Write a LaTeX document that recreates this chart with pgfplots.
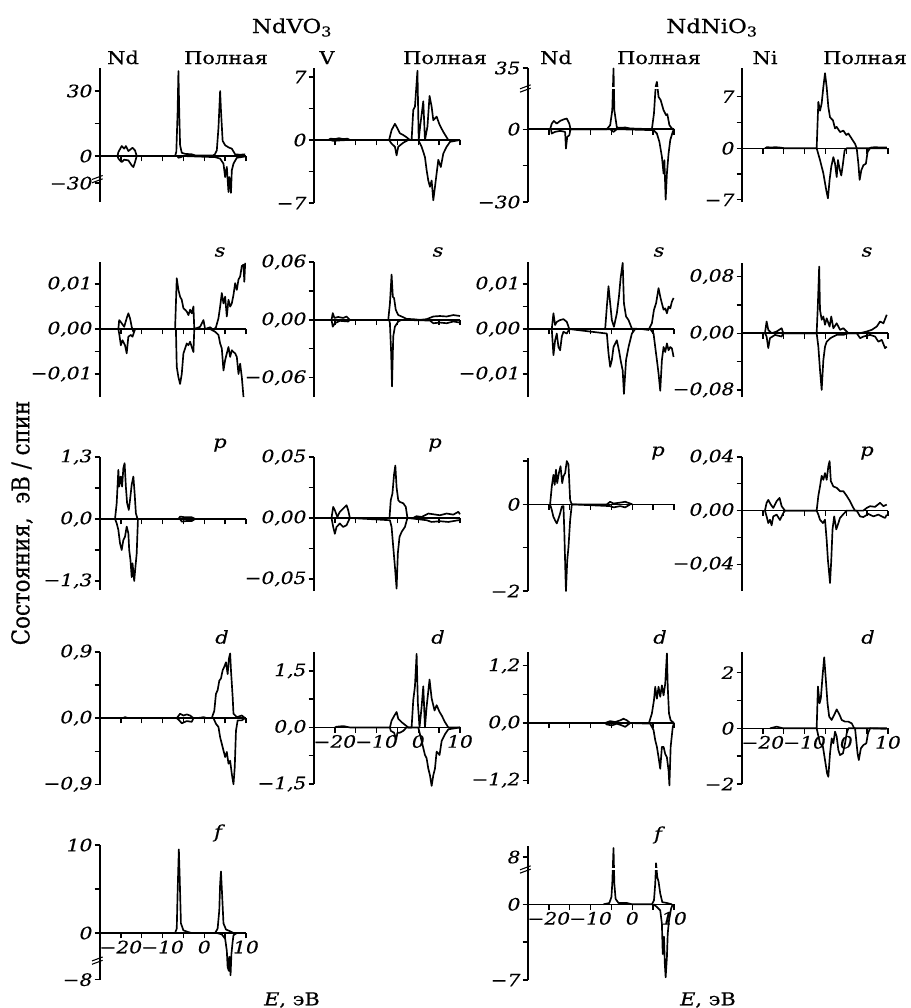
\documentclass[border=0pt]{standalone}
\usepackage{fontspec}
\setmainfont{DejaVu Serif}[FakeStretch=1.18, FakeBold=0.5]
\newfontfamily\plainserif{DejaVu Serif}[FakeBold=0.5]
\usepackage{pgfplots}
\pgfplotsset{compat=1.18}

\pgfplotsset{
  dos/.style={
    scale only axis, width=109.5pt, anchor=north west,
    xmin=-25, xmax=10,
    axis x line=middle, axis y line=left,
    axis line style={-, line width=1.1pt},
    hide obscured x ticks=false, hide obscured y ticks=false,
    scaled y ticks=false,
    xtick={-20,-10,0,10}, minor xtick={-15,-5,5}, xticklabels={{},{},{},{}},
    xtick align=outside, ytick align=outside,
    major tick length=4pt, minor tick length=4pt,
    tick style={black, line width=1pt},
    yticklabel style={font=\fontsize{12.8}{14}\selectfont\itshape, inner sep=1.5pt},
    xticklabel style={font=\fontsize{12.8}{14}\selectfont\itshape, inner sep=1.5pt},
    clip=false,
    every axis plot post/.append style={black, line width=1.25pt, mark=none, line join=round},
  },
  elab/.style={xticklabels={−20,−10,0,10}},
}
% axis break mark on the y axis
\newcommand{\brk}[1]{%
  \draw[line width=0.8pt] ([xshift=-6pt,yshift=-3pt]axis cs:-25,#1) -- ++(8pt,3pt);
  \draw[line width=0.8pt] ([xshift=-6pt,yshift=-0.5pt]axis cs:-25,#1) -- ++(8pt,3pt);}
\newcommand{\lab}[3]{\node[anchor=base, inner sep=0pt] at ({0.75*#1pt},{-0.75*#2pt}) {#3};}
\newcommand{\orb}[3]{\node[inner sep=0pt] at ({0.75*#1pt},{-0.75*#2pt}) {\itshape #3};}

\begin{document}
\begin{tikzpicture}[font=\fontsize{13.3}{15}\selectfont]
\path[use as bounding box] (0,0) rectangle (683.25pt,-756pt);

% ---------- titles ----------
\lab{292}{33}{\fontsize{14.5}{16}\selectfont NdVO\textsubscript{3}}
\lab{712}{33}{\fontsize{14.5}{16}\selectfont NdNiO\textsubscript{3}}
\lab{123}{64}{Nd}  \lab{226}{64}{Полная}
\lab{327}{64}{V}   \lab{445}{64}{Полная}
\lab{556}{64}{Nd}  \lab{659}{64}{Полная}
\lab{765}{64}{Ni}  \lab{865}{64}{Полная}
\node[rotate=90] at ({0.75*22pt},{-0.75*523pt}) {\scalebox{1}[1.15]{\plainserif\fontsize{16}{18}\selectfont Состояния,\ \ эВ / спин}};

% ================= row 1 : total =================
\begin{axis}[dos, at={(75pt,-51pt)}, height=100.5pt, ymin=-21.2, ymax=40.6,
  ytick={-12.5,0,30}, yticklabels={−30,0,30}, minor ytick={15}]
\addplot coordinates {(-20.8,0) (-20.6,1.8) (-19.8,4.6) (-19.2,3.4) (-18.8,4.6) (-18.2,2.3) (-17.6,3.2) (-17.2,3.8) (-16.6,2.6) (-16.2,0) (-7.0,0) (-6.7,2) (-6.4,20) (-6.2,39.2) (-6.0,20) (-5.8,5) (-5.4,1.5) (-4.6,1) (-3.0,0.8) (-2.2,0.3) (2.2,0.3) (2.6,1) (3.0,2.6) (3.4,13) (3.8,30) (4.0,21) (4.4,7) (5.0,5) (5.8,4) (6.6,3.4) (7.4,0.8) (8.6,0.6) (9.8,0.8)};
\addplot coordinates {(-20.8,0) (-20.6,-1.2) (-19.8,-2.8) (-19.2,-1.7) (-18.2,-2) (-17.4,-4.3) (-17.0,-5.1) (-16.6,-2.8) (-16.2,0) (-6.4,0) (-6.2,-0.8) (-5.6,-0.5) (-5.0,0) (2.6,-0.5) (3.8,-1.2) (4.6,-3.5) (5.0,-9.7) (5.4,-5) (5.8,-16.6) (6.0,-9.7) (6.4,-17) (6.6,-6.6) (7.0,-3.5) (7.8,-0.8) (9.8,-0.2)};
\brk{-10.5}
\end{axis}

\begin{axis}[dos, at={(235.5pt,-51pt)}, height=101.25pt, ymin=-7, ymax=8,
  ytick={-7,0,7}, yticklabels={−7,0,7}, minor ytick={-3.5,3.5}]
\addplot coordinates {(-21.6,0) (-21,0.15) (-20,0.1) (-19,0.2) (-18,0.1) (-17,0.15) (-16.4,0) (-7,0) (-6.4,1.1) (-5.6,1.8) (-5.0,1.3) (-4.4,0.75) (-3.6,0.55) (-2.8,0.3) (-2.0,0) (-1.6,0) (-1.2,3.35) (-0.8,3.7) (-0.2,7.7) (0.1,0) (0.44,1.5) (1.2,4.3) (1.6,0) (2.2,1.5) (2.7,4.9) (3.2,3.7) (3.6,2.2) (4.4,2.6) (5.1,1.7) (6.0,0.9) (7.2,0) (10,0)};
\addplot coordinates {(-21,0) (-20.4,-0.1) (-19,-0.05) (-17,0) (-7,0) (-6.4,-0.4) (-5.6,-0.75) (-5.2,-1.7) (-4.8,-0.75) (-3.6,-0.3) (-2.4,0) (0,0) (0.8,-0.75) (1.6,-1.9) (2.0,-3.35) (2.4,-4.5) (2.8,-5.2) (3.2,-4.5) (3.6,-6.7) (4.0,-5.2) (4.4,-3.7) (4.8,-2.2) (5.4,-3.0) (6.0,-1.5) (6.8,-0.75) (7.6,-0.2) (10,0)};
\end{axis}

\begin{axis}[dos, at={(396pt,-51pt)}, height=100.5pt, ymin=-30, ymax=25.2,
  ytick={-30,0,25.2}, yticklabels={−30,0,35}, minor ytick={-15}]
\addplot coordinates {(-19.7,0) (-19.3,2.3) (-18.8,3.4) (-18.1,2.3) (-17.3,3.4) (-16.5,4) (-15.7,4.4) (-15.1,2.3) (-14.8,0) (-6.1,0) (-5.3,1.65) (-4.8,7.8) (-4.5,25) (-4.3,7.8) (-3.7,0.7) (-2.9,0.55) (-1.7,0.7) (-0.5,0.3) (4.7,0) (5.2,6.5) (5.6,17.5) (5.9,19.5) (6.3,13.3) (6.8,12) (7.5,7.8) (8.1,5.8) (8.4,6.2) (8.9,1.65) (9.5,0.3) (10,0)};
\addplot coordinates {(-19.5,0) (-19.3,-1.8) (-18.5,-1.1) (-17.3,-0.7) (-16.1,-1.1) (-15.9,-8) (-15.6,-3.2) (-15.1,-2.5) (-14.8,0) (-5.3,0) (-4.5,-1.1) (-3.7,0) (5.1,-0.4) (5.9,-1.8) (6.5,-5.2) (7.1,-11.4) (7.5,-18.3) (7.7,-12.8) (8.0,-29) (8.3,-18.3) (8.7,-10) (9.1,-4.5) (9.7,-1.1) (10,0)};
\draw[white, line width=1.2pt] (axis cs:-5,16.9) -- (axis cs:-4,16.9) (axis cs:5.2,16.9) -- (axis cs:6.6,16.9);
\brk{16.9}
\end{axis}

\begin{axis}[dos, at={(556.5pt,-51pt)}, height=100.5pt, ymin=-7.3, ymax=10.9,
  ytick={-7,0,7}, yticklabels={−7,0,7}, minor ytick={-3.5,3.5}]
\addplot coordinates {(-19.5,0) (-19,0.15) (-18,0.1) (-17,0.15) (-16,0.1) (-14.7,0) (-7.1,0) (-6.7,6.3) (-6.3,5.1) (-5.9,6.1) (-5.5,8.3) (-5.1,10.2) (-4.7,8.3) (-4.3,5.6) (-3.9,4.2) (-3.2,3.8) (-2.7,2.7) (-2.3,2.9) (-1.5,2.2) (-0.7,2.4) (0.0,1.8) (0.5,2.0) (1.7,0.95) (2.1,0.6) (2.5,0) (5.5,0) (6,0.1) (7,0.15) (8,0.1) (9.7,0.1)};
\addplot coordinates {(-7.1,0) (-6.3,-1.6) (-5.5,-3.4) (-4.8,-5.7) (-4.4,-6.8) (-4.0,-4.3) (-3.6,-2.5) (-3.1,-1.2) (-2.7,-2.1) (-2.3,-3.9) (-2.0,-1.6) (-1.6,-2.8) (-1.2,-3.7) (-0.8,-2.1) (-0.4,-0.3) (0.1,0) (2.5,0) (2.9,-2.1) (3.2,-4.3) (3.6,-3.0) (4.1,-2.3) (4.7,-2.1) (5.1,-0.5) (5.7,0) (9.7,0)};
\end{axis}

% ================= row 2 : s =================
\begin{axis}[dos, at={(75pt,-196.5pt)}, height=101.25pt, ymin=-0.0151, ymax=0.0149,
  ytick={-0.01,0,0.01}, yticklabels={{−0,01},{0,00},{0,01}}, minor ytick={-0.005,0.005}]
\addplot coordinates {(-20.6,0) (-20.4,0.002) (-19.8,0.0013) (-19.2,0.0005) (-18.6,0.0024) (-18.2,0.0035) (-17.8,0.0024) (-17.4,0.0005) (-17.0,-0.0006) (-16.6,0) (-7.0,0) (-6.6,0.0113) (-6.2,0.0087) (-5.8,0.0072) (-5.4,0.0065) (-5.0,0.0046) (-4.6,0.0043) (-4.2,0.0039) (-3.8,0.0031) (-3.4,0.0043) (-3.0,0.0035) (-2.6,0.005) (-2.4,0) (-1.0,0.0005) (-0.2,0.002) (0.2,0) (1.4,0.0004) (2.2,-0.0002) (2.8,0.0004) (3.4,0.0024) (3.8,0.005) (4.2,0.008) (4.6,0.0057) (5.0,0.0072) (5.4,0.0028) (5.8,0.0065) (6.2,0.005) (6.6,0.0057) (7.0,0.0076) (7.4,0.0102) (7.8,0.0087) (8.2,0.011) (8.6,0.0117) (9.0,0.014) (9.4,0.0143) (9.6,0.0105) (9.8,0.0147)};
\addplot coordinates {(-20.6,0) (-20.4,-0.001) (-20.0,-0.0036) (-19.6,-0.0025) (-19.0,-0.0036) (-18.6,-0.0054) (-18.2,-0.0017) (-17.6,-0.0013) (-17.2,-0.0017) (-16.6,0) (-6.8,0) (-6.6,-0.0084) (-6.2,-0.0107) (-5.8,-0.0122) (-5.4,-0.01) (-5.0,-0.0054) (-4.6,-0.0043) (-4.2,-0.0032) (-3.8,-0.0036) (-3.4,-0.0028) (-3.0,-0.004) (-2.6,-0.0051) (-2.4,0) (1.4,0) (2.6,-0.0006) (3.4,-0.0013) (3.8,-0.0032) (4.2,-0.0043) (4.6,-0.0092) (5.0,-0.0069) (5.4,-0.0054) (5.8,-0.004) (6.2,-0.0062) (6.6,-0.0047) (7.0,-0.0051) (7.4,-0.0054) (7.8,-0.0062) (8.2,-0.01) (8.6,-0.0077) (9.0,-0.0107) (9.4,-0.0151)};
\end{axis}

\begin{axis}[dos, at={(235.5pt,-196.5pt)}, height=101.25pt, ymin=-0.08, ymax=0.06,
  ytick={-0.06,0,0.06}, yticklabels={{−0,06},{0,00},{0,06}}, minor ytick={-0.03,0.03}]
\addplot coordinates {(-20.8,0) (-20.5,0.007) (-20.1,0.002) (-19.2,0.003) (-18.0,0.002) (-17.2,0.0035) (-16.4,0) (-7.2,0) (-6.8,0.017) (-6.4,0.047) (-6.1,0.024) (-5.8,0.0225) (-5.4,0.0104) (-4.8,0.005) (-4.0,0.0035) (-2.8,0.001) (-1.2,0.0007) (0.4,0) (2.0,0.0007) (3.6,0.0035) (5.2,0.004) (6.8,0.0035) (8.4,0.005) (10,0.004)};
\addplot coordinates {(-20.8,0) (-20.5,-0.007) (-20.0,-0.0035) (-18.8,-0.001) (-16.8,-0.0017) (-16.4,0) (-7.0,0) (-6.8,-0.0035) (-6.5,-0.0347) (-6.3,-0.069) (-6.0,-0.017) (-5.6,-0.007) (-4.8,-0.0017) (-4.0,0) (2.8,-0.0007) (3.6,-0.0035) (5.2,-0.0028) (6.8,-0.0035) (8.4,-0.0017) (10,-0.0028)};
\end{axis}

\begin{axis}[dos, at={(396pt,-196.5pt)}, height=101.25pt, ymin=-0.0151, ymax=0.0149,
  ytick={-0.01,0,0.01}, yticklabels={{−0,01},{0,00},{0,01}}, minor ytick={-0.005,0.005}]
\addplot coordinates {(-19.3,0) (-18.9,0.0035) (-18.5,0.0009) (-18.1,0.0016) (-17.3,0.002) (-16.5,0.0022) (-15.7,0.0016) (-15.1,0) (-6.5,0) (-6.1,0.005) (-5.7,0.0095) (-5.3,0.0057) (-4.9,0.002) (-4.4,0.0005) (-3.7,0.0035) (-3.2,0.0072) (-2.8,0.0113) (-2.3,0.0147) (-2.0,0.0057) (-1.5,0.0028) (-0.9,0.002) (-0.1,0.0001) (2.3,0) (3.9,-0.0002) (4.7,0.0013) (5.2,0.0043) (5.7,0.0057) (6.3,0.0091) (6.7,0.0072) (7.1,0.0057) (7.5,0.0043) (7.9,0.0046) (8.3,0.0035) (8.7,0.005) (9.1,0.0046) (9.5,0.0061) (9.9,0.0069)};
\addplot coordinates {(-19.3,0) (-18.9,-0.0058) (-18.5,-0.0025) (-18.1,-0.001) (-17.7,-0.004) (-17.3,-0.0047) (-16.9,-0.0017) (-16.5,-0.0006) (-15.7,-0.001) (-15.1,0) (-6.1,-0.001) (-5.7,-0.0054) (-5.3,-0.0084) (-4.9,-0.0069) (-4.5,-0.004) (-3.7,-0.0025) (-3.2,-0.0047) (-2.8,-0.0069) (-2.3,-0.0092) (-2.0,-0.0144) (-1.5,-0.0069) (-0.9,-0.004) (-0.1,-0.001) (0.7,0) (4.3,0) (5.1,-0.001) (5.5,-0.004) (5.9,-0.0069) (6.3,-0.0099) (6.7,-0.0137) (7.1,-0.0069) (7.5,-0.004) (7.9,-0.0051) (8.3,-0.0032) (8.7,-0.0047) (9.1,-0.004) (9.5,-0.0043) (9.9,-0.0062)};
\end{axis}

\begin{axis}[dos, at={(556.5pt,-197.25pt)}, height=100.5pt, ymin=-0.09, ymax=0.099,
  ytick={-0.08,0,0.08}, yticklabels={{−0,08},{0,00},{0,08}}, minor ytick={-0.04,0.04}]
\addplot coordinates {(-19.5,0) (-19.1,0.0165) (-18.7,0.0047) (-17.9,0) (-16.7,0.0024) (-15.5,0.007) (-15.1,0) (-7.1,0) (-6.8,0.042) (-6.5,0.094) (-6.3,0.033) (-5.9,0.019) (-5.5,0.0235) (-5.1,0.012) (-4.7,0.021) (-4.0,0.0094) (-3.6,0.0235) (-3.1,0.007) (-2.3,0.014) (-1.5,0.0047) (-0.7,0.007) (0.5,0) (3.3,0) (4.9,0.0024) (6.1,0.0047) (7.3,0.0094) (8.1,0.0165) (8.9,0.014) (9.7,0.026)};
\addplot coordinates {(-19.5,0) (-19.1,-0.0047) (-18.7,-0.021) (-18.3,-0.007) (-17.1,-0.0024) (-15.5,-0.0047) (-15.1,0) (-7.1,0) (-6.7,-0.019) (-6.3,-0.052) (-5.9,-0.08) (-5.5,-0.038) (-5.1,-0.019) (-4.7,-0.012) (-3.8,-0.007) (-3.1,-0.0047) (-2.3,-0.0024) (-0.7,-0.0024) (0.5,0) (2.5,0) (3.3,-0.007) (4.1,-0.0047) (5.7,-0.0024) (6.9,-0.0047) (7.7,-0.012) (8.5,-0.0094) (9.3,-0.021) (9.7,-0.019)};
\end{axis}

% ================= row 3 : p =================
\begin{axis}[dos, at={(75pt,-342.75pt)}, height=99.75pt, ymin=-1.49, ymax=1.3,
  ytick={-1.3,0,1.3}, yticklabels={{−1,3},{0,0},{1,3}}, minor ytick={-0.65,0.65}]
\addplot coordinates {(-21.4,0) (-21.0,0.33) (-20.6,1.03) (-20.4,0.68) (-20.0,0.89) (-19.7,0.68) (-19.4,1.07) (-19.1,1.17) (-18.8,0.68) (-18.5,0.33) (-18.1,0.19) (-17.8,0.4) (-17.4,0.72) (-17.0,0.89) (-16.7,0.54) (-16.4,0.12) (-16.0,0) (-6.2,0) (-5.8,0.05) (-4.6,0.035) (-3.0,0.035) (-2.2,0)};
\addplot coordinates {(-21.4,0) (-21.0,-0.09) (-20.6,-0.23) (-20.2,-0.51) (-19.8,-0.65) (-19.4,-0.44) (-19.0,-0.37) (-18.6,-0.16) (-18.2,-0.3) (-18.0,-0.65) (-17.7,-0.86) (-17.4,-1.22) (-17.2,-0.93) (-16.8,-1.3) (-16.5,-1.0) (-16.2,-0.72) (-15.9,0) (-5.8,0) (-5.4,-0.056) (-4.2,-0.042) (-3.0,-0.042) (-2.2,0)};
\end{axis}

\begin{axis}[dos, at={(235.5pt,-342.75pt)}, height=100.5pt, ymin=-0.06, ymax=0.05,
  ytick={-0.05,0,0.05}, yticklabels={{−0,05},{0,00},{0,05}}, minor ytick={-0.025,0.025}]
\addplot coordinates {(-20.8,0) (-20.4,0.009) (-20.0,0.0063) (-19.4,0.0008) (-18.8,0.005) (-18.0,0.0077) (-17.2,0.0104) (-16.8,0.0063) (-16.4,0) (-6.9,0) (-6.6,0.0145) (-6.2,0.02) (-5.8,0.036) (-5.5,0.043) (-5.2,0.025) (-4.8,0.0145) (-4.4,0.0131) (-3.6,0.012) (-3.0,0.0091) (-2.6,0) (-1.2,0) (-0.4,0.0014) (0.8,0.0008) (2.4,0.0036) (3.6,0.003) (5.2,0.0022) (6.8,0.0036) (8.4,0.0027) (9.6,0.005) (10,0.003)};
\addplot coordinates {(-20.8,0) (-20.4,-0.0074) (-20.0,-0.013) (-19.6,-0.0074) (-18.8,-0.0046) (-18.0,-0.0074) (-17.2,-0.006) (-16.4,0) (-6.8,-0.0019) (-6.4,-0.0074) (-6.0,-0.024) (-5.6,-0.04) (-5.2,-0.058) (-4.9,-0.029) (-4.5,-0.0156) (-4.0,-0.0115) (-3.2,-0.0074) (-2.6,0) (2.0,-0.0019) (3.2,-0.0033) (5.2,-0.0027) (7.2,-0.0033) (9.6,-0.0019) (10,-0.002)};
\end{axis}

\begin{axis}[dos, at={(396pt,-343.5pt)}, height=99.75pt, ymin=-2, ymax=1.07,
  ytick={-2,0}, yticklabels={−2,0}, minor ytick={-1,1}]
\addplot coordinates {(-19.7,0) (-19.3,0.41) (-18.9,0.68) (-18.6,0.45) (-18.3,0.8) (-18.0,0.49) (-17.6,0.72) (-17.2,0.88) (-16.8,0.49) (-16.5,0.65) (-16.1,0.72) (-15.7,1.0) (-15.3,0.92) (-14.9,0.1) (-14.5,0) (-6.1,0) (-5.3,0.06) (-4.5,0.02) (-2.9,0.04) (-1.7,0.06) (-0.5,0.02) (0,0)};
\addplot coordinates {(-19.7,0) (-19.3,-0.13) (-18.9,-0.29) (-18.5,-0.37) (-18.1,-0.44) (-17.7,-0.33) (-17.3,-0.21) (-16.9,-0.05) (-16.5,-0.04) (-16.3,-0.6) (-16.0,-1.7) (-15.9,-2.0) (-15.6,-1.3) (-15.3,-0.99) (-14.9,-0.37) (-14.5,0) (-5.3,-0.04) (-4.5,-0.07) (-2.9,-0.04) (-1.7,-0.07) (-0.5,0)};
\end{axis}

\begin{axis}[dos, at={(556.5pt,-342.75pt)}, height=100.5pt, ymin=-0.06, ymax=0.04,
  ytick={-0.04,0,0.04}, yticklabels={{−0,04},{0,00},{0,04}}, minor ytick={-0.02,0.02}]
\addplot coordinates {(-19.5,0) (-19.1,0.0058) (-18.7,0.008) (-18.1,0.0045) (-17.5,0.002) (-16.7,0.007) (-16.0,0.0095) (-15.5,0.0033) (-14.7,0) (-7.1,0) (-6.7,0.011) (-6.3,0.018) (-5.9,0.026) (-5.5,0.023) (-5.1,0.028) (-4.7,0.023) (-4.3,0.033) (-4.0,0.037) (-3.7,0.022) (-3.1,0.018) (-2.3,0.017) (-1.5,0.0145) (-0.7,0.0145) (0.1,0.011) (0.9,0.007) (1.7,0.002) (2.1,0) (4.1,0) (4.9,0.002) (5.7,0.0033) (6.9,0.0028) (8.1,0.0058) (8.9,0.0033) (9.7,0.0045)};
\addplot coordinates {(-19.5,0) (-19.1,-0.0043) (-18.7,-0.0093) (-18.3,-0.0068) (-17.9,-0.011) (-17.5,-0.0043) (-16.7,-0.003) (-15.9,-0.007) (-15.1,-0.0018) (-14.7,0) (-7.1,0) (-6.7,-0.003) (-6.3,-0.0068) (-5.6,-0.0093) (-5.1,-0.0068) (-4.7,-0.022) (-4.4,-0.037) (-4.1,-0.047) (-3.9,-0.054) (-3.6,-0.037) (-3.3,-0.014) (-2.9,-0.0043) (-2.4,-0.014) (-1.9,-0.0093) (-1.5,-0.0055) (-0.8,-0.003) (0.1,0) (2.5,0) (3.3,-0.0043) (4.1,-0.0048) (5.3,-0.0025) (6.5,-0.0043) (7.7,-0.003) (8.5,-0.0043) (9.3,-0.0055) (9.7,-0.003)};
\end{axis}

% ================= row 4 : d =================
\begin{axis}[dos, at={(75pt,-489pt)}, height=99.75pt, ymin=-0.91, ymax=0.9,
  ytick={-0.9,0,0.9}, yticklabels={{−0,9},{0,0},{0,9}}, minor ytick={-0.45,0.45}]
\addplot coordinates {(-19.5,0) (-19.0,0.014) (-18.2,0) (-6.6,0) (-5.8,0.06) (-5.0,0.036) (-4.2,0.05) (-3.4,0.036) (-2.6,0) (-1.0,0.005) (-0.2,0.014) (0.6,0) (1.8,0) (2.4,0.1) (2.8,0.33) (3.2,0.38) (3.6,0.51) (4.0,0.54) (4.4,0.65) (4.8,0.7) (5.2,0.76) (5.6,0.6) (5.9,0.81) (6.2,0.88) (6.4,0.65) (6.8,0.29) (7.0,0.06) (7.8,0.014) (9.0,0.036) (9.8,0)};
\addplot coordinates {(-6.6,0) (-6.0,-0.03) (-5.4,-0.07) (-4.2,-0.04) (-3.0,-0.05) (-2.6,0) (2.2,0) (2.8,-0.077) (3.4,-0.12) (3.8,-0.26) (4.2,-0.35) (4.6,-0.44) (5.0,-0.53) (5.4,-0.46) (5.8,-0.62) (6.2,-0.58) (6.6,-0.76) (7.0,-0.9) (7.3,-0.67) (7.6,-0.17) (8.0,-0.03) (9.0,-0.03) (9.8,0)};
\end{axis}

\begin{axis}[dos, elab, at={(235.5pt,-489pt)}, height=99pt, ymin=-1.5, ymax=2.0,
  ytick={-1.5,0,1.5}, yticklabels={{−1,5},{0,0},{1,5}}, minor ytick={-0.75,0.75}]
\addplot coordinates {(-20,0) (-19.6,0.018) (-18.0,0.036) (-16.4,0) (-6.8,0) (-6.4,0.18) (-5.7,0.32) (-5.2,0.41) (-4.8,0.23) (-4.0,0.14) (-3.2,0.07) (-2.4,0) (-1.6,0) (-1.2,0.73) (-0.8,1.09) (-0.4,1.95) (-0.1,0.64) (0.3,0) (0.8,0.55) (1.2,1.09) (1.6,0) (2.0,0.55) (2.7,1.27) (3.2,0.77) (3.9,0.45) (4.4,0.59) (5.1,0.41) (5.6,0.32) (6.4,0.14) (7.2,0) (10,0)};
\addplot coordinates {(-6.8,0) (-6.6,-0.09) (-5.8,-0.14) (-5.3,-0.32) (-5.0,-0.14) (-4.4,-0.14) (-3.6,-0.09) (-2.8,0) (0,0) (0.8,-0.36) (1.6,-0.73) (2.0,-0.82) (2.4,-1.09) (2.8,-1.27) (3.2,-1.55) (3.6,-1.27) (4.0,-1.09) (4.4,-0.64) (5.1,-0.73) (5.6,-0.36) (6.4,-0.18) (7.2,-0.05) (10,0)};
\end{axis}

\begin{axis}[dos, at={(396pt,-489pt)}, height=99pt, ymin=-1.28, ymax=1.49,
  ytick={-1.2,0,1.2}, yticklabels={{−1,2},{0,0},{1,2}}, minor ytick={-0.6,0.6}]
\addplot coordinates {(-6.5,0) (-5.3,0.04) (-4.1,0.02) (-2.9,0.056) (-2.1,0.09) (-1.3,0.056) (-0.5,0) (4.0,0) (4.7,0.2) (5.2,0.48) (5.5,0.76) (5.9,0.51) (6.3,0.76) (6.7,0.55) (7.1,0.79) (7.5,0.58) (7.9,0.83) (8.3,1.46) (8.5,0.76) (8.8,0.2) (9.2,0.056) (10,0)};
\addplot coordinates {(-6.5,0) (-6.1,-0.03) (-4.9,-0.05) (-3.7,-0.014) (-2.5,-0.05) (-1.7,-0.08) (-0.5,0) (4.3,-0.014) (5.1,-0.15) (5.5,-0.36) (5.9,-0.5) (6.3,-0.72) (6.7,-0.96) (7.1,-0.5) (7.5,-0.5) (7.9,-0.65) (8.3,-0.72) (8.7,-1.0) (8.9,-1.31) (9.2,-0.5) (9.7,-0.084) (10,0)};
\end{axis}

\begin{axis}[dos, elab, at={(556.5pt,-489pt)}, height=99pt, ymin=-2, ymax=2.74,
  ytick={-2,0,2}, yticklabels={−2,0,2}, minor ytick={-1,1}]
\addplot coordinates {(-18.3,0) (-16.7,0.06) (-15.1,0) (-7.1,0) (-6.8,1.5) (-6.4,0.9) (-6.1,1.08) (-5.7,1.86) (-5.3,2.55) (-4.9,1.74) (-4.5,0.9) (-4.1,0.42) (-3.5,0.3) (-2.9,0.48) (-2.3,0.68) (-1.6,0.48) (-1.1,0.3) (-0.3,0.24) (0.5,0.24) (1.3,0.18) (1.9,0) (9.7,0)};
\addplot coordinates {(-7.1,0) (-6.3,-0.54) (-5.6,-0.66) (-5.1,-1.14) (-4.6,-1.62) (-4.3,-1.74) (-3.9,-0.9) (-3.5,-0.36) (-3.1,-0.54) (-2.7,-0.12) (-2.3,-0.3) (-1.9,-0.78) (-1.5,-0.96) (-0.8,-0.9) (-0.3,-0.54) (0.1,-0.18) (0.5,0) (2.1,0) (2.7,-0.9) (3.0,-1.14) (3.5,-0.72) (4.1,-0.6) (4.8,-0.54) (5.2,-0.18) (5.7,0) (9.7,-0.02)};
\end{axis}

% ================= row 5 : f =================
\begin{axis}[dos, elab, at={(75pt,-633.75pt)}, height=101.25pt, ymin=-5.34, ymax=10,
  ytick={-5.3,0,10}, yticklabels={−8,0,10}, minor ytick={5}]
\addplot coordinates {(-7.0,0) (-6.6,0.5) (-6.4,4.5) (-6.1,9.5) (-5.9,6.4) (-5.6,1.1) (-5.0,0.3) (-3.8,0.1) (-3.0,0) (2.6,0) (3.2,0.5) (3.6,2.6) (3.8,5.6) (4.0,7.0) (4.3,4.1) (4.6,1.1) (5.2,0.4) (6.2,0.2) (7.0,0)};
\addplot coordinates {(3.0,0) (4.2,-0.15) (5.0,-0.65) (5.4,-2.0) (5.6,-3.9) (5.9,-4.3) (6.0,-2.7) (6.3,-4.8) (6.5,-2.4) (6.8,-1.0) (7.0,-0.25) (7.8,0)};
\brk{-3.1}
\end{axis}

\begin{axis}[dos, elab, at={(396pt,-634.5pt)}, height=100.5pt, ymin=-7, ymax=5.39,
  ytick={-7,0,4.37}, yticklabels={−7,0,8}, minor ytick={-3.5}]
\addplot coordinates {(-6.9,0) (-5.5,0.12) (-5.0,0.68) (-4.8,1.9) (-4.5,5.2) (-4.3,1.9) (-4.0,0.5) (-3.3,0.12) (-1.3,0.12) (0.0,0) (4.7,0) (5.2,0.37) (5.5,1.9) (5.7,3.8) (6.0,2.5) (6.3,2.1) (6.7,1.0) (7.2,0.2) (8.3,0.12) (9.5,0)};
\addplot coordinates {(5.1,0) (5.9,-0.25) (6.7,-0.56) (7.1,-1.8) (7.3,-4.6) (7.6,-3.0) (7.8,-5.5) (8.0,-6.75) (8.3,-4.9) (8.5,-2.7) (8.8,-1.5) (9.3,-0.4) (9.7,0)};
\draw[white, line width=1.2pt] (axis cs:-5,3.25) -- (axis cs:-4,3.25) (axis cs:5.3,3.25) -- (axis cs:6.2,3.25);
\brk{3.25}
\end{axis}

% ---------- orbital labels and energy axis titles ----------
\orb{220}{252}{s} \orb{438}{252}{s} \orb{659}{252}{s} \orb{867}{252}{s}
\orb{220}{445}{p} \orb{435}{445}{p} \orb{658}{453}{p} \orb{867}{453}{p}
\orb{222}{637}{d} \orb{438}{637}{d} \orb{660}{637}{d} \orb{868}{637}{d}
\orb{218}{833}{f} \orb{658}{835}{f}
\node at ({0.75*292pt},{-0.75*1000pt}) {\textit{E}, эВ};
\node at ({0.75*708pt},{-0.75*1000pt}) {\textit{E}, эВ};
\end{tikzpicture}
\end{document}
